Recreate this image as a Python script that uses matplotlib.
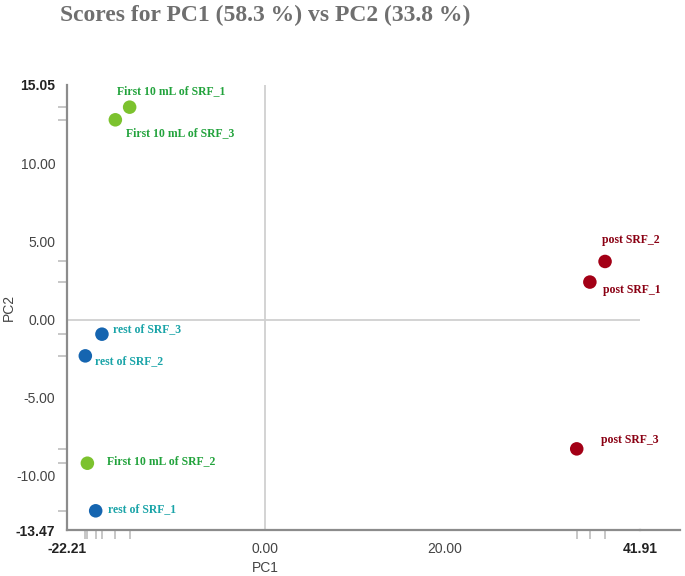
import numpy as np
import matplotlib as mpl
mpl.use("Agg")
import matplotlib.pyplot as plt
from matplotlib.lines import Line2D

# scores
first10_names = ['First 10 mL of SRF_1', 'First 10 mL of SRF_3', 'First 10 mL of SRF_2']
first10_pc1 = [-15.2, -16.8, -19.93]
first10_pc2 = [13.63, 12.82, -9.19]

rest_names = ['rest of SRF_3', 'rest of SRF_2', 'rest of SRF_1']
rest_pc1 = [-18.3, -20.16, -19.0]
rest_pc2 = [-0.92, -2.31, -12.24]

post_names = ['post SRF_2', 'post SRF_1', 'post SRF_3']
post_pc1 = [38.0, 36.3, 34.83]
post_pc2 = [3.74, 2.42, -8.27]

x_ticks = [-22.21, 0.0, 20.0, 41.91]
y_ticks = [-13.47, -10.0, -5.0, 0.0, 5.0, 10.0, 15.05]
x_lim = (-22.21, 41.91)
y_lim = (-13.47, 15.05)

# label offsets in pixels (text anchor relative to point)
first10_off = [(-13, 16), (11, -13), (20, 2)]
rest_off = [(11, 5), (10, -5), (12, 2)]
post_off = [(-3, 21), (13, -8), (24, 9)]

fig = plt.figure(figsize=(6.85, 5.76), dpi=100)
ax = fig.add_axes([67 / 685, 1 - 530 / 576, (640 - 67) / 685, (530 - 85) / 576])

ax.set_xlim(*x_lim)
ax.set_ylim(*y_lim)

# zero lines
ax.axvline(0, color='#d0d0d0', lw=1.3, zorder=0)
ax.axhline(0, color='#d0d0d0', lw=1.3, zorder=0)

groups = [
    (first10_pc1, first10_pc2, first10_names, first10_off, '#7cc22e', '#22a33c'),
    (rest_pc1, rest_pc2, rest_names, rest_off, '#1565b0', '#1aa4a8'),
    (post_pc1, post_pc2, post_names, post_off, '#a30016', '#8a0013'),
]

all_x = []
all_y = []
for xs, ys, names, offs, mcol, tcol in groups:
    ax.scatter(xs, ys, s=95, color=mcol, edgecolors='none', zorder=3)
    for x, y, name, (dx, dy) in zip(xs, ys, names, offs):
        ax.annotate(name, (x, y), xytext=(dx, dy), textcoords='offset pixels',
                    ha='left', va='center', color=tcol, fontsize=8.5,
                    fontweight='bold', family='Liberation Serif')
    all_x += xs
    all_y += ys

# spines
for s in ['top', 'right']:
    ax.spines[s].set_visible(False)
for s in ['left', 'bottom']:
    ax.spines[s].set_color('#8c8c8c')
    ax.spines[s].set_linewidth(1.6)
# bottom axis runs on past the data range
ax.add_line(Line2D([1, 1.07], [0, 0], transform=ax.transAxes, color='#8c8c8c',
                   lw=1.6, clip_on=False))

# labelled ticks without marks, rug ticks at the points
ax.set_xticks(x_ticks)
ax.set_xticklabels(['-22.21', '0.00', '20.00', '41.91'])
ax.set_yticks(y_ticks)
ax.set_yticklabels(['-13.47', '-10.00', '-5.00', '0.00', '5.00', '10.00', '15.05'])
ax.tick_params(axis='both', which='major', length=0, labelsize=10, labelcolor='#444444')
ax.tick_params(axis='x', which='major', pad=8.5)
ax.tick_params(axis='y', which='major', pad=8.5)
ax.set_xticks(all_x, minor=True)
ax.set_yticks(all_y, minor=True)
ax.tick_params(axis='both', which='minor', length=6.5, width=1.2, color='#bdbdbd',
               direction='out')

for lab in ax.get_xticklabels() + ax.get_yticklabels():
    lab.set_family('Liberation Sans')
for i in [0, -1]:
    ax.get_xticklabels()[i].set_fontweight('bold')
    ax.get_xticklabels()[i].set_color('#222222')
    ax.get_yticklabels()[i].set_fontweight('bold')
    ax.get_yticklabels()[i].set_color('#222222')

fig.text(265.7 / 685, 1 - 568 / 576, 'PC1', ha='center', va='center',
         fontsize=10, color='#444444', family='Liberation Sans')
fig.text(9 / 685, 1 - 307 / 576, 'PC2', ha='center', va='center', rotation=90,
         fontsize=10, color='#444444', family='Liberation Sans')

fig.text(265.5 / 685, 1 - 15 / 576, 'Scores for PC1 (58.3 %) vs PC2 (33.8 %)',
         ha='center', va='center', fontsize=17, fontweight='bold',
         color='#6f6f6f', family='Liberation Serif')

fig.savefig('out.png', dpi=100)
